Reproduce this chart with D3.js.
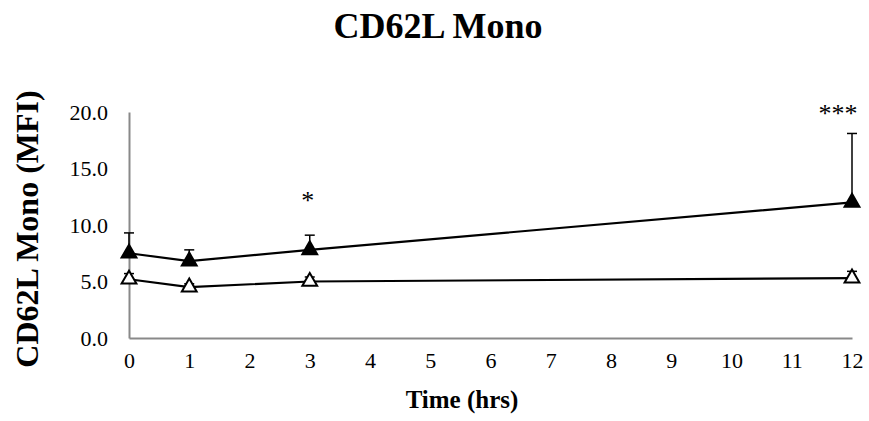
<!DOCTYPE html>
<html>
<head>
<meta charset="utf-8">
<script src="https://cdn.jsdelivr.net/npm/d3@7/dist/d3.min.js"></script>
<style>
  html, body { margin: 0; padding: 0; background: #fff; }
  svg text { font-family: "Liberation Serif", "Times New Roman", Times, "DejaVu Serif", serif; }
</style>
</head>
<body>
<svg id="chart" width="869" height="421"></svg>
<script>
// Sampling times (hours)
const times = [0, 1, 3, 12];
// Filled triangles: mean MFI and upper error
const filledMean = [7.5, 6.8, 7.8, 12.0];
const filledErr  = [1.8, 1.0, 1.3, 6.1];
// Open triangles: mean MFI and upper error
const openMean = [5.2, 4.5, 5.0, 5.3];
const openErr  = [0.5, 0.3, 0.4, 0.6];
// Significance marks
const sigTimes  = [3, 12];
const sigLabels = ["*", "***"];
const sigValues = [11.4, 19.1];
// Axis ticks
const xTicks = [0, 1, 2, 3, 4, 5, 6, 7, 8, 9, 10, 11, 12];
const yTicks = [0, 5, 10, 15, 20];

const FONT = "'Liberation Serif', 'Times New Roman', Times, 'DejaVu Serif', serif";
const svg = d3.select("#chart");
const margin = { left: 129, right: 17, top: 112, bottom: 83 };
const W = 869, H = 421;

const x = d3.scaleLinear().domain([0, 12]).range([margin.left, W - margin.right]);
const y = d3.scaleLinear().domain([0, 20]).range([H - margin.bottom, margin.top]);

// Title
svg.append("text")
  .attr("x", 438).attr("y", 38)
  .attr("text-anchor", "middle")
  .attr("font-family", FONT)
  .style("font-weight", "bold").style("font-size", "36px")
  .text("CD62L Mono");

// Axes (no tick marks, grey lines)
const axisColor = "#898989";
const xAxis = d3.axisBottom(x).tickValues(xTicks).tickSize(0).tickPadding(14).tickFormat(d3.format("d"));
const yAxis = d3.axisLeft(y).tickValues(yTicks).tickSize(0).tickPadding(21).tickFormat(d3.format(".1f"));

const gx = svg.append("g").attr("transform", `translate(0,${y(0)})`).call(xAxis);
const gy = svg.append("g").attr("transform", `translate(${x(0)},0)`).call(yAxis);
[gx, gy].forEach(g => {
  g.attr("font-family", FONT).attr("font-size", 22);
  g.select(".domain").attr("stroke", axisColor).attr("stroke-width", 2);
  g.selectAll("text").attr("fill", "#000");
});
gx.selectAll("text").attr("dy", "0.71em");

// Axis titles
svg.append("text")
  .attr("x", 462).attr("y", 408)
  .attr("text-anchor", "middle")
  .attr("font-family", FONT)
  .style("font-weight", "bold").style("font-size", "25px")
  .text("Time (hrs)");

svg.append("text")
  .attr("transform", `translate(38,229) rotate(-90)`)
  .attr("text-anchor", "middle")
  .attr("font-family", FONT)
  .style("font-weight", "bold").style("font-size", "32px")
  .text("CD62L Mono (MFI)");

// Series
const series = [
  { mean: filledMean, err: filledErr, fill: "#000" },
  { mean: openMean, err: openErr, fill: "#fff" }
];

const line = d3.line().x((d, i) => x(times[i])).y(d => y(d));
const tri = d3.symbol().type(d3.symbolTriangle).size(95);

series.forEach(s => {
  // upper error bars
  const eb = svg.append("g");
  times.forEach((t, i) => {
    const top = y(s.mean[i] + s.err[i]);
    eb.append("line").attr("x1", x(t)).attr("x2", x(t))
      .attr("y1", y(s.mean[i])).attr("y2", top)
      .attr("stroke", "#000").attr("stroke-width", 1.5);
    eb.append("line").attr("x1", x(t) - 5).attr("x2", x(t) + 5)
      .attr("y1", top).attr("y2", top)
      .attr("stroke", "#000").attr("stroke-width", 1.5);
  });
  svg.append("path").datum(s.mean)
    .attr("d", line).attr("fill", "none")
    .attr("stroke", "#000").attr("stroke-width", 2.2);
  svg.append("g").selectAll("path").data(s.mean).join("path")
    .attr("d", tri)
    .attr("transform", (d, i) => `translate(${x(times[i])},${y(d)})`)
    .attr("fill", s.fill).attr("stroke", "#000").attr("stroke-width", 2);
});

// Significance labels
svg.append("g").selectAll("text").data(sigTimes).join("text")
  .attr("x", (d, i) => x(d) + (i === 1 ? -14 : -2)).attr("y", (d, i) => y(sigValues[i]))
  .attr("text-anchor", "middle")
  .attr("font-family", FONT)
  .style("font-size", "26px")
  .text((d, i) => sigLabels[i]);
</script>
</body>
</html>
